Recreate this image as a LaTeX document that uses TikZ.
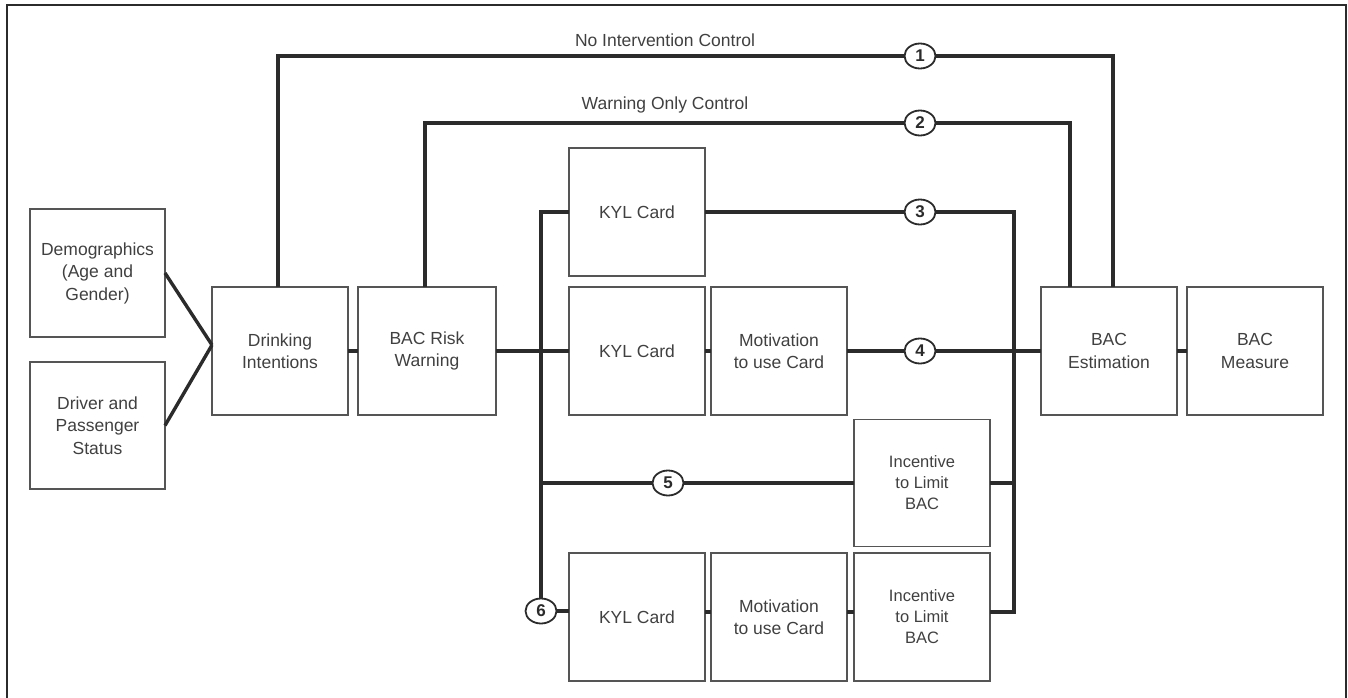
\documentclass[tikz,border=0pt]{standalone}
\usepackage{fontspec}
\setmainfont{Liberation Sans}
\usetikzlibrary{shapes.geometric}
\definecolor{boxc}{HTML}{555555}
\definecolor{linec}{HTML}{2B2B2B}
\definecolor{txtc}{HTML}{404040}
\tikzset{
  stagebox/.style={draw=boxc, line width=1.8pt, minimum width=136pt, minimum height=128pt,
    inner sep=0pt, outer sep=0pt, align=center, text=txtc,
    font=\fontsize{17.5}{22.5}\selectfont},
  smallbox/.style={stagebox, font=\fontsize{16.5}{21}\selectfont},
  conn/.style={draw=linec, line width=3.4pt},
  numc/.style={ellipse, draw=linec, line width=1.8pt, fill=white, minimum width=31pt,
    minimum height=25pt, inner sep=0pt, outer sep=0pt, text=linec,
    font=\fontsize{17}{17}\selectfont\bfseries},
  ttl/.style={text=txtc, font=\fontsize{17.5}{20}\selectfont, inner sep=0pt}
}
\begin{document}
\begin{tikzpicture}[x=1pt,y=-1pt]
\useasboundingbox (0,0) rectangle (1348,698);
% frame
\draw[draw=linec, line width=2.6pt] (7,700) -- (7,5) -- (1346,5) -- (1346,700);

% boxes
\node[stagebox, minimum width=135pt] (demo) at (97.5,273) {Demographics\\(Age and\\Gender)};
\node[stagebox, minimum width=135pt, minimum height=127pt] (driver) at (97.5,425.5) {Driver and\\Passenger\\Status};
\node[stagebox] (drink) at (280,351) {Drinking\\Intentions};
\node[stagebox, minimum width=138pt] (risk) at (427,351) {BAC Risk\\Warning};
\node[stagebox] (kyla) at (637,212) {KYL Card};
\node[stagebox] (kylb) at (637,351) {KYL Card};
\node[stagebox] (motb) at (779,351) {Motivation\\to use Card};
\node[smallbox, minimum height=127pt] (incc) at (922,483) {Incentive\\to Limit\\BAC};
\node[stagebox] (kyld) at (637,617) {KYL Card};
\node[stagebox] (motd) at (779,617) {Motivation\\to use Card};
\node[smallbox] (incd) at (922,617) {Incentive\\to Limit\\BAC};
\node[stagebox] (est) at (1109,351) {BAC\\Estimation};
\node[stagebox] (meas) at (1255,351) {BAC\\Measure};

% titles
\node[ttl] (t1) at (665,40) {No Intervention Control};
\node[ttl] (t2) at (665,105) {Warning Only Control};

% numbered circles
\node[numc] (c1) at (920,56) {1};
\node[numc] (c2) at (920,123) {2};
\node[numc] (c3) at (920,212) {3};
\node[numc] (c4) at (920,351) {4};
\node[numc] (c5) at (668,483) {5};
\node[numc] (c6) at (541,611) {6};

% bus coordinates
\coordinate (busl) at (541,212);
\coordinate (busr) at (1014,212);
\coordinate (busrb) at (1014,612);

% demographics -> drinking intentions
\draw[conn] (demo.east) -- ([yshift=6pt]drink.west);
\draw[conn] (driver.east) -- ([yshift=6pt]drink.west);

% path 1
\draw[conn] ([xshift=-2pt]drink.north) |- (c1.west);
\draw[conn] (c1.east) -| ([xshift=4pt]est.north);
% path 2
\draw[conn] ([xshift=-2pt]risk.north) |- (c2.west);
\draw[conn] (c2.east) -| ([xshift=-39pt]est.north);
% path 3
\draw[conn] (kyla.west) -- (busl) -- (c6.north);
\draw[conn] (kyla.east) -- (c3.west);
\draw[conn] (c3.east) -- (busr) -- (busrb) -- (busrb -| incd.east);
% path 4
\draw[conn] (drink.east) -- (risk.west);
\draw[conn] (risk.east) -- (kylb.west);
\draw[conn] (kylb.east) -- (motb.west);
\draw[conn] (motb.east) -- (c4.west);
\draw[conn] (c4.east) -- (est.west);
\draw[conn] (est.east) -- (meas.west);
% path 5
\draw[conn] (c5.west -| busl) -- (c5.west);
\draw[conn] (c5.east) -- (incc.west);
\draw[conn] (incc.east) -- (incc.east -| busr);
% path 6
\draw[conn] (c6.east) -- (c6.east -| kyld.west);
\draw[conn] ([yshift=5pt]kyld.east) -- ([yshift=5pt]motd.west);
\draw[conn] ([yshift=5pt]motd.east) -- ([yshift=5pt]incd.west);
\end{tikzpicture}
\end{document}
